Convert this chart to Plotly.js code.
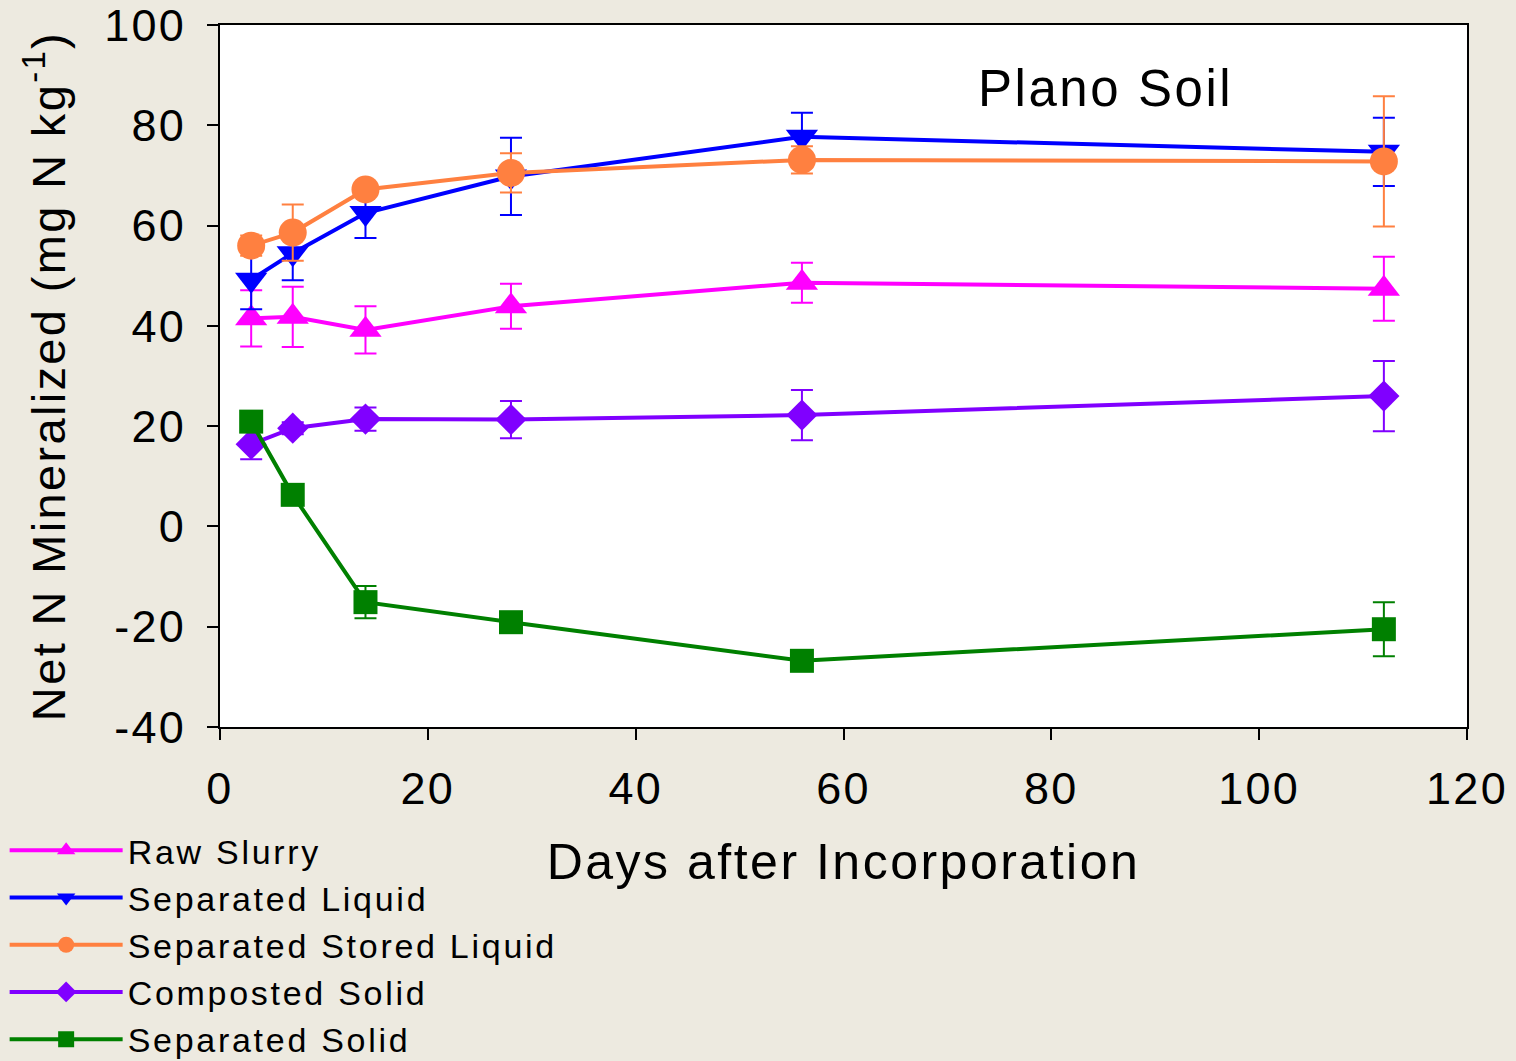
<!DOCTYPE html>
<html>
<head>
<meta charset="utf-8">
<script src="https://cdn.plot.ly/plotly-3.0.1.min.js"></script>
<style>
  html, body { margin: 0; padding: 0; background: #EDEAE0; }
  #chart { width: 1516px; height: 1061px; }
  text { letter-spacing: 0.05em; }
  text.legendtext { letter-spacing: 0.08em; }
</style>
</head>
<body>
<div id="chart"></div>
<script>
const days = [3, 7, 14, 28, 56, 112];

const seriesNames = ["Raw Slurry", "Separated Liquid", "Separated Stored Liquid", "Composted Solid", "Separated Solid"];

const rawSlurry = [41.5, 41.8, 39.2, 43.9, 48.6, 47.4];
const rawSlurryErr = [5.6, 6.0, 4.7, 4.5, 4.0, 6.4];

const sepLiquid = [49.2, 54.5, 62.5, 69.8, 77.7, 74.7];
const sepLiquidErr = [5.9, 5.4, 5.0, 7.7, 4.8, 6.8];

const sepStoredLiquid = [56.0, 58.6, 67.2, 70.5, 73.1, 72.8];
const sepStoredLiquidErr = [2.0, 5.6, 1.0, 3.9, 2.7, 13.0];

const compostedSolid = [16.4, 19.6, 21.4, 21.3, 22.2, 26.0];
const compostedSolidErr = [3.0, 1.2, 2.3, 3.7, 5.0, 7.0];

const sepSolid = [20.9, 6.3, -15.1, -19.1, -26.8, -20.5];
const sepSolidErr = [1.0, 1.0, 3.2, 1.0, 1.0, 5.4];

const xTicks = [0, 20, 40, 60, 80, 100, 120];
const yTicks = [-40, -20, 0, 20, 40, 60, 80, 100];

function mk(name, y, err, color, symbol, size) {
  return {
    type: "scatter", mode: "lines+markers", name: name,
    x: days, y: y,
    line: { color: color, width: 4 },
    marker: { color: color, symbol: symbol, size: size },
    error_y: { type: "data", array: err, visible: true, color: color, thickness: 2, width: 11 }
  };
}

const traces = [
  mk(seriesNames[0], rawSlurry, rawSlurryErr, "#FF00FF", "triangle-up", 28),
  mk(seriesNames[1], sepLiquid, sepLiquidErr, "#0000FF", "triangle-down", 28),
  mk(seriesNames[2], sepStoredLiquid, sepStoredLiquidErr, "#FF8040", "circle", 28),
  mk(seriesNames[3], compostedSolid, compostedSolidErr, "#8000FF", "diamond", 24),
  mk(seriesNames[4], sepSolid, sepSolidErr, "#008000", "square", 24)
];

const font = "Liberation Sans, Arial, sans-serif";

const layout = {
  width: 1516, height: 1061,
  paper_bgcolor: "#EDEAE0",
  plot_bgcolor: "#FFFFFF",
  margin: { l: 220, r: 49, t: 25, b: 334, pad: 0, autoexpand: false },
  font: { family: font, color: "#000000", size: 40 },
  showlegend: true,
  legend: {
    x: -0.1727, xanchor: "left", y: -0.135, yanchor: "top",
    bgcolor: "rgba(0,0,0,0)", font: { family: font, size: 34, color: "#000" },
    itemwidth: 113, tracegroupgap: 0
  },
  xaxis: {
    range: [0, 120], tickvals: xTicks, ticktext: xTicks.map(String),
    showgrid: false, zeroline: false, automargin: false,
    showline: true, linecolor: "#000", linewidth: 2, mirror: true,
    ticks: "outside", ticklen: 11, tickwidth: 2, tickcolor: "#000",
    tickfont: { family: font, size: 45 },
    ticklabelstandoff: 10, ticklabeloverflow: "allow",
    title: { text: "Days after Incorporation", font: { family: font, size: 50 }, standoff: 31 }
  },
  yaxis: {
    range: [-40, 100], tickvals: yTicks, ticktext: yTicks.map(String),
    showgrid: false, zeroline: false, automargin: false,
    showline: true, linecolor: "#000", linewidth: 2, mirror: true,
    ticks: "outside", ticklen: 11, tickwidth: 2, tickcolor: "#000",
    tickfont: { family: font, size: 45 },
    ticklabelstandoff: 12, ticklabeloverflow: "allow",
    title: { text: "Net N Mineralized (mg N kg<sup>-1</sup>)", font: { family: font, size: 47 }, standoff: 24 }
  },
  annotations: [{
    xref: "paper", yref: "paper", x: 0.71, y: 0.91, xanchor: "center", yanchor: "middle",
    text: "Plano Soil", showarrow: false,
    font: { family: font, size: 51, color: "#000" }
  }]
};

Plotly.newPlot("chart", traces, layout, { displayModeBar: false, staticPlot: true });
</script>
</body>
</html>
